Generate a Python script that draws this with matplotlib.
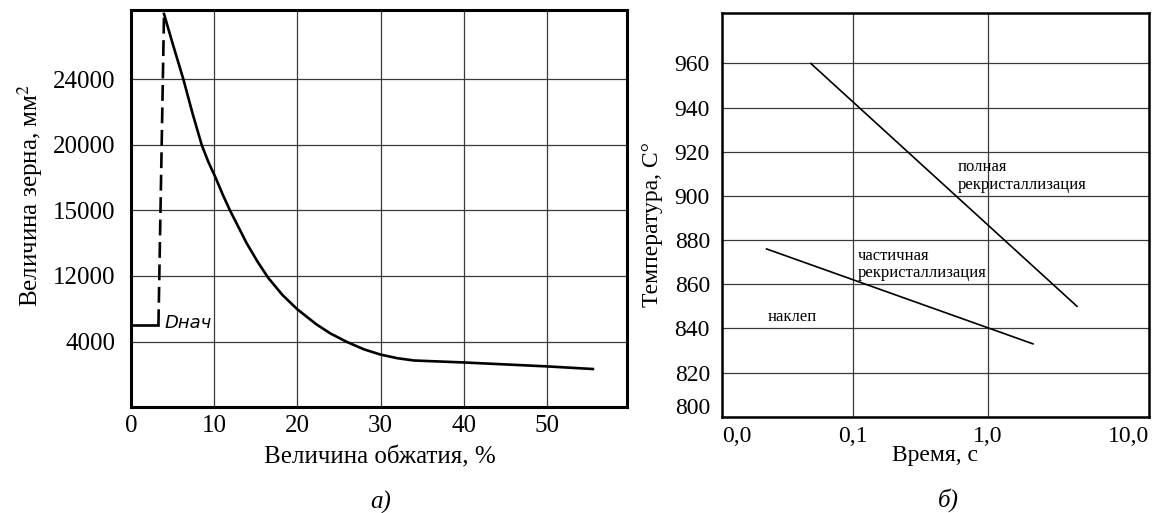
import numpy as np
import matplotlib
matplotlib.use('Agg')
import matplotlib.pyplot as plt
from matplotlib.transforms import ScaledTranslation

plt.rcParams['font.family'] = ['Liberation Serif', 'DejaVu Serif']
plt.rcParams['mathtext.fontset'] = 'stix'

# --- panel a: grain size vs reduction (y is on an evenly spaced label grid)
grainTicks = ['4000', '12000', '15000', '20000', '24000']
reduction = [3.97, 5.0, 6.3, 7.4, 8.5, 9.3, 10.1, 11.0, 11.9, 13.9, 15.2, 16.5, 18.2,
             20.0, 22.3, 24.0, 26.0, 28.0, 30.0, 32.0, 34.0, 37.0, 40.0, 50.0, 55.5]
grainPos = [6.0, 5.55, 5.0, 4.48, 4.0, 3.74, 3.52, 3.25, 3.0, 2.5, 2.22, 1.97, 1.71,
            1.49, 1.26, 1.12, 0.99, 0.88, 0.80, 0.745, 0.71, 0.695, 0.68, 0.62, 0.58]
dStartX = [0, 3.3]
dStartY = [1.25, 1.25]
dJumpX = [3.3, 3.97]
dJumpY = [1.25, 6.0]

# --- panel b: temperature vs time
timeTicks = ['0,0', '0,1', '1,0', '10,0']
tempTicks = [800, 820, 840, 860, 880, 900, 920, 940, 960]
fullX = [0.049, 4.6]
fullY = [960, 850]
partX = [0.023, 2.17]
partY = [876, 833]

fig = plt.figure(figsize=(11.56, 5.13), dpi=100)
ax1 = fig.add_axes([0.1133, 0.2066, 0.4291, 0.7739])
ax2 = fig.add_axes([0.6243, 0.1877, 0.3696, 0.7875])

gridKw = dict(color='#3a3a3a', lw=0.9)

# left panel
ax1.plot(reduction, grainPos, c='k', lw=1.9, solid_joinstyle='round')
ax1.plot(dStartX, dStartY, c='k', lw=1.9)
ax1.plot(dJumpX, dJumpY, c='k', lw=1.9, ls=(0, (6, 2.5)))
ax1.text(4.0, 1.28, 'Dнач', fontsize=13, style='italic', va='center',
         family='DejaVu Sans', fontweight='light')
ax1.set_xlim(0, 59.6)
ax1.set_ylim(0, 6.06)
ax1.set_xticks(range(0, 60, 10))
ax1.set_yticks(range(1, len(grainTicks) + 1))
ax1.set_yticklabels(grainTicks)
ax1.tick_params(axis='both', length=0, labelsize=18)
ax1.tick_params(axis='y', pad=11.5)
ax1.tick_params(axis='x', pad=6)
ax1.grid(True, **gridKw)
for s in ax1.spines.values():
    s.set_linewidth(2.2)
ax1.text(-0.204, 0.534, r'Величина зерна, мм$^2$', transform=ax1.transAxes,
         rotation=90, ha='center', va='center', fontsize=18)
ax1.text(0.502, -0.126, 'Величина обжатия, %', transform=ax1.transAxes,
         ha='center', va='center', fontsize=18)

# right panel
ax2.set_xscale('log')
ax2.plot(fullX, fullY, c='k', lw=1.2)
ax2.plot(partX, partY, c='k', lw=1.2)
ax2.text(0.60, 909, 'полная\nрекристаллизация', fontsize=12, va='center', linespacing=1.1)
ax2.text(0.109, 869, 'частичная\nрекристаллизация', fontsize=12, va='center', linespacing=1.1)
ax2.text(0.0234, 845.3, 'наклеп', fontsize=12, va='center')
xl = (0.0107, 15.7)
ax2.set_xlim(*xl)
ax2.set_ylim(800, 983)
ax2.set_xticks([xl[0], 0.1, 1, xl[1]])
ax2.set_xticklabels(timeTicks)
ax2.xaxis.set_minor_locator(plt.NullLocator())
ax2.set_yticks(tempTicks)
ax2.tick_params(axis='both', length=0, labelsize=17)
ax2.tick_params(axis='y', pad=8.5)
ax2.tick_params(axis='x', pad=7)
xt = ax2.get_xticklabels()
xt[0].set_ha('left')
xt[-1].set_ha('right')
yt = ax2.get_yticklabels()
yt[0].set_transform(yt[0].get_transform() + ScaledTranslation(0, 8/72, fig.dpi_scale_trans))
ax2.grid(True, **gridKw)
for s in ax2.spines.values():
    s.set_linewidth(1.8)
ax2.text(-0.161, 0.477, 'Температура, С°', transform=ax2.transAxes,
         rotation=90, ha='center', va='center', fontsize=17)
ax2.text(0.5, -0.095, 'Время, с', transform=ax2.transAxes,
         ha='center', va='center', fontsize=17)

fig.text(0.3296, 0.0214, 'а)', style='italic', fontsize=18, ha='center', va='center')
fig.text(0.820, 0.025, 'б)', style='italic', fontsize=18, ha='center', va='center')

fig.savefig('out.png', dpi=100)
plt.close(fig)
